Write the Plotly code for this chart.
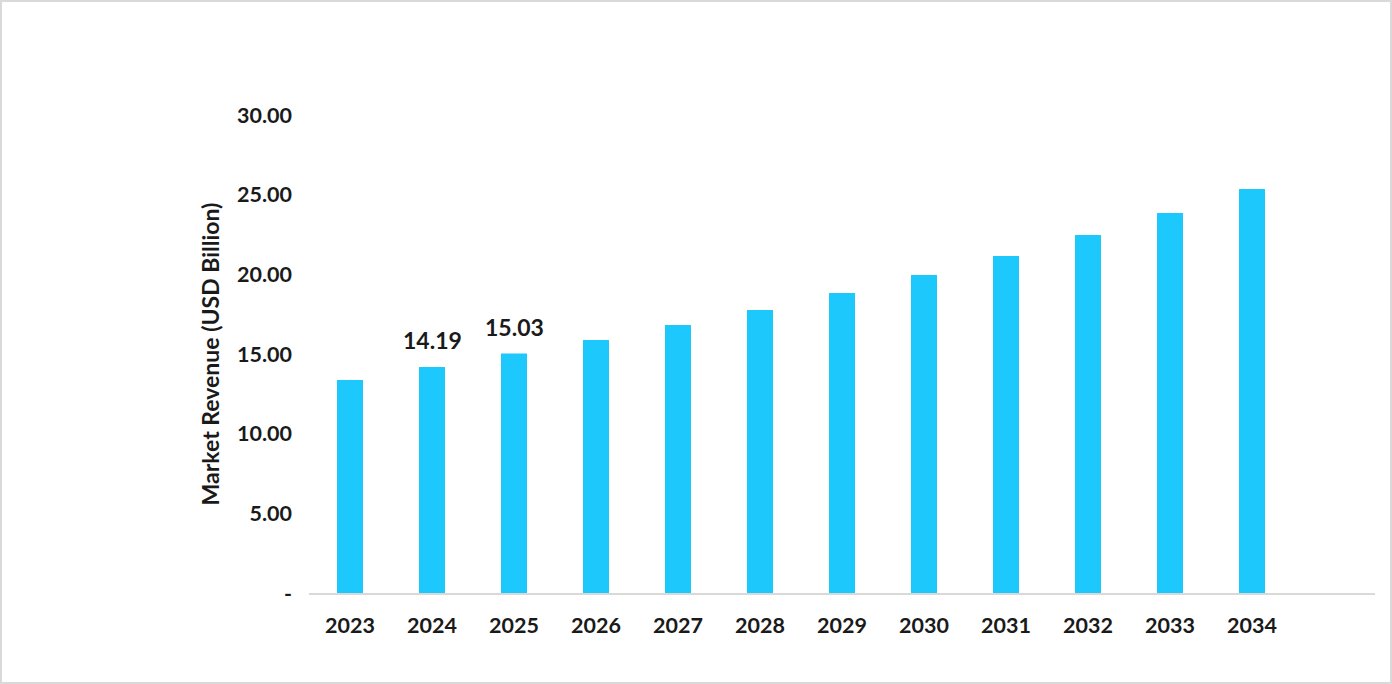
import plotly.graph_objects as go

years = ["2023", "2024", "2025", "2026", "2027", "2028", "2029", "2030", "2031", "2032", "2033", "2034"]
revenue = [13.37, 14.19, 15.03, 15.88, 16.82, 17.76, 18.83, 19.96, 21.15, 22.47, 23.85, 25.36]
labels = ["", "14.19", "15.03", "", "", "", "", "", "", "", "", ""]
y_ticks = [0, 5, 10, 15, 20, 25, 30]
y_tick_text = ["-", "5.00", "10.00", "15.00", "20.00", "25.00", "30.00"]

FONT = "Lato"
W, H = 1392, 684
ml, mr, mt, mb = 309, 17, 115, 91

xpos = list(range(len(years)))

fig = go.Figure()
fig.add_trace(go.Bar(
    x=xpos,
    y=revenue,
    marker=dict(color="#1CC8FC", line=dict(width=0)),
    width=0.317,
))

annotations = [
    dict(x=xi, y=yi, text=t, xref="x", yref="y", showarrow=False,
         yanchor="bottom", yshift=11,
         font=dict(family=FONT, size=23, color="#1a1a1a", weight="bold"))
    for xi, yi, t in zip(xpos, revenue, labels) if t
]

fig.update_layout(
    width=W, height=H,
    margin=dict(l=ml, r=mr, t=mt, b=mb),
    paper_bgcolor="white",
    plot_bgcolor="white",
    showlegend=False,
    font=dict(family=FONT, size=21, color="#1a1a1a"),
    annotations=annotations,
    xaxis=dict(
        range=[-0.5, 12.5],
        tickmode="array",
        tickvals=xpos,
        ticktext=years,
        tickfont=dict(family=FONT, size=21.5, color="#1a1a1a", weight="bold"),
        showgrid=False,
        zeroline=False,
        showline=True,
        linecolor="#d9d9d9",
        linewidth=2,
        ticks="",
        ticklabelstandoff=12,
        fixedrange=True,
    ),
    yaxis=dict(
        range=[0, 30],
        tickmode="array",
        tickvals=y_ticks,
        ticktext=y_tick_text,
        tickfont=dict(family=FONT, size=21.5, color="#1a1a1a", weight="bold"),
        showgrid=False,
        zeroline=False,
        showline=False,
        ticks="",
        ticklabelstandoff=16,
        title=dict(text="Market Revenue (USD Billion)",
                   font=dict(family=FONT, size=23, color="#1a1a1a", weight="bold"),
                   standoff=10),
        fixedrange=True,
    ),
)

# outer grey frame around the whole image
pw = W - ml - mr
ph = H - mt - mb
fig.add_shape(
    type="rect", xref="paper", yref="paper",
    x0=(1 - ml) / pw, x1=(W - ml - 1) / pw,
    y0=-(mb - 1) / ph, y1=1 + (mt - 1) / ph,
    line=dict(color="#d9d9d9", width=2),
    layer="below",
)

fig.write_html("out.html", config={"displayModeBar": False},
               post_script="document.body.style.margin='0';document.body.style.overflow='hidden';")
